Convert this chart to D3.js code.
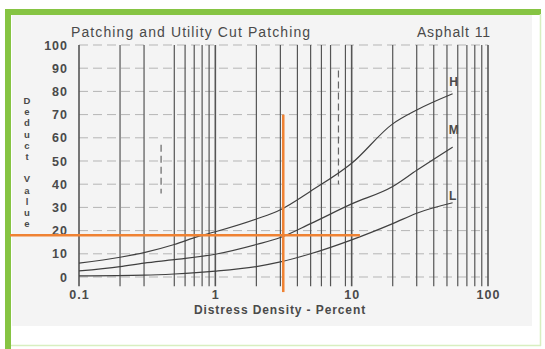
<!DOCTYPE html>
<html>
<head>
<meta charset="utf-8">
<script src="https://cdn.jsdelivr.net/npm/d3@7"></script>
<style>
  body { margin: 0; background: #fff; }
  svg { display: block; font-family: "Liberation Sans", Arial, sans-serif; }
</style>
</head>
<body>
<div id="chart"></div>
<script>
// deduct value curves (density in percent, log scale)
const densityH = [0.1, 0.2, 0.3, 0.5, 0.75, 1, 2, 3, 5, 10, 20, 30, 55];
const deductH  = [6, 8.5, 10.5, 14, 17.5, 19.5, 25, 29, 37, 49, 66, 72, 79];
const densityM = [0.1, 0.2, 0.3, 0.5, 1, 2, 3, 5, 10, 20, 30, 55];
const deductM  = [2.6, 4.5, 6, 7.5, 9.8, 14, 17, 23, 31.5, 39, 46, 56];
const densityL = [0.1, 0.3, 0.5, 1, 2, 3, 5, 10, 20, 30, 55];
const deductL  = [0.5, 0.8, 1.3, 2.5, 4.5, 6.5, 10, 16, 23, 27.5, 32];

const curveNames = ["H", "M", "L"];
const labelPos = [[56, 83.5], [56, 63], [55, 34.5]];

const xTicks = [0.1, 1, 10, 100];
const yTicks = [0, 10, 20, 30, 40, 50, 60, 70, 80, 90, 100];
const gridDensities = [0.1, 0.2, 0.3, 0.5, 0.6, 0.7, 0.8, 0.9, 1, 2, 3, 4, 5, 6, 7, 9, 10,
                       20, 30, 40, 50, 60, 70, 80, 90, 100];
// broken grid lines in the scan
const partialGrid = [{d: 0.4, from: 36, to: 57}, {d: 8, from: 40, to: 89}];

// orange read-off lines
const lookupDensity = 3.15;
const lookupDeduct = 18;

const width = 545;
const height = 349;
const green = "#86c443";
const orange = "#ef8233";
const ink = "#4a4a4a";

const svg = d3.select("#chart")
  .append("svg")
    .attr("width", width)
    .attr("height", height);

// page frame + scanned area
svg.append("rect")
  .attr("x", 0).attr("y", 0).attr("width", width).attr("height", height)
  .attr("fill", "#fff");
svg.append("rect")
  .attr("x", 12).attr("y", 14).attr("width", 520).attr("height", 312)
  .attr("fill", "#f4f4f4");
svg.append("rect")
  .attr("x", 5).attr("y", 9).attr("width", 536).attr("height", 6)
  .attr("fill", green);
svg.append("rect")
  .attr("x", 5).attr("y", 9).attr("width", 6).attr("height", 340)
  .attr("fill", green);
svg.append("line")
  .attr("x1", 540.5).attr("x2", 540.5).attr("y1", 14).attr("y2", 346)
  .attr("stroke", "#d8efc0").attr("stroke-width", 1.5);
svg.append("line")
  .attr("x1", 11).attr("x2", 541).attr("y1", 345.5).attr("y2", 345.5)
  .attr("stroke", "#d8efc0").attr("stroke-width", 1.5);

const xScale = d3.scaleLog()
  .domain([0.1, 100])
  .range([79, 488]);
const yScale = d3.scaleLinear()
  .domain([0, 100])
  .range([277, 45]);

// horizontal dashed grid
svg.append("g")
  .selectAll("line")
  .data(yTicks)
  .join("line")
    .attr("x1", xScale(0.1))
    .attr("x2", xScale(100))
    .attr("y1", d => yScale(d))
    .attr("y2", d => yScale(d))
    .attr("stroke", "#b5b5b5")
    .attr("stroke-width", 1)
    .attr("stroke-dasharray", "9,5");

// vertical log grid
svg.append("g")
  .selectAll("line")
  .data(gridDensities)
  .join("line")
    .attr("x1", d => xScale(d))
    .attr("x2", d => xScale(d))
    .attr("y1", yScale(100))
    .attr("y2", yScale(-4))
    .attr("stroke", "#555")
    .attr("stroke-width", d => Number.isInteger(Math.log10(d)) ? 1.6 : 1.2);

svg.append("g")
  .selectAll("line")
  .data(partialGrid)
  .join("line")
    .attr("x1", d => xScale(d.d))
    .attr("x2", d => xScale(d.d))
    .attr("y1", d => yScale(d.to))
    .attr("y2", d => yScale(d.from))
    .attr("stroke", "#666")
    .attr("stroke-width", 1.2)
    .attr("stroke-dasharray", "7,4");

// curves
const lineGenerator = d3.line()
  .x(d => xScale(d[0]))
  .y(d => yScale(d[1]))
  .curve(d3.curveMonotoneX);

const curves = [
  d3.zip(densityH, deductH),
  d3.zip(densityM, deductM),
  d3.zip(densityL, deductL)
];

svg.append("g")
  .selectAll("path")
  .data(curves)
  .join("path")
    .attr("d", lineGenerator)
    .attr("fill", "none")
    .attr("stroke", "#404040")
    .attr("stroke-width", 1.2);

svg.append("g")
  .selectAll("text")
  .data(curveNames)
  .join("text")
    .text(d => d)
    .attr("x", (d, i) => xScale(labelPos[i][0]))
    .attr("y", (d, i) => yScale(labelPos[i][1]))
    .attr("text-anchor", "middle")
    .attr("dominant-baseline", "middle")
    .attr("font-size", 12)
    .attr("font-weight", "bold")
    .attr("fill", ink);

// axes (labels only, the scan has no axis line)
const leftAxis = d3.axisLeft(yScale)
  .tickValues(yTicks)
  .tickSize(0)
  .tickPadding(11);
svg.append("g")
  .attr("class", "axis-y")
  .attr("transform", `translate(${xScale(0.1)}, 0)`)
  .call(leftAxis);

const bottomAxis = d3.axisBottom(xScale)
  .tickValues(xTicks)
  .tickFormat(d => String(d))
  .tickSize(0)
  .tickPadding(13);
svg.append("g")
  .attr("class", "axis-x")
  .attr("transform", `translate(0, ${yScale(0)})`)
  .call(bottomAxis);

svg.selectAll(".domain").remove();
svg.selectAll(".axis-y text, .axis-x text")
  .attr("fill", ink)
  .style("font-family", "'Liberation Sans', Arial, sans-serif")
  .style("font-size", "12.5px")
  .style("font-weight", "bold")
  .style("letter-spacing", "1px");

// titles
svg.append("text")
  .text("Patching and Utility Cut Patching")
  .attr("x", 71)
  .attr("y", 37)
  .attr("font-size", 14)
  .attr("letter-spacing", 1.1)
  .attr("fill", ink);

svg.append("text")
  .text("Asphalt 11")
  .attr("x", 491)
  .attr("y", 37)
  .attr("text-anchor", "end")
  .attr("font-size", 14)
  .attr("letter-spacing", 0.9)
  .attr("fill", ink);

svg.append("text")
  .text("Distress Density - Percent")
  .attr("x", 280)
  .attr("y", 314)
  .attr("text-anchor", "middle")
  .attr("font-size", 12)
  .attr("font-weight", "bold")
  .attr("letter-spacing", 0.9)
  .attr("fill", ink);

// stacked y label
const yLabel = "Deduct Value".split("");
svg.append("g")
  .selectAll("text")
  .data(yLabel)
  .join("text")
    .text(d => d)
    .attr("x", 27)
    .attr("y", (d, i) => 104 + i * 11.2)
    .attr("text-anchor", "middle")
    .attr("font-size", 9.5)
    .attr("font-weight", "bold")
    .attr("fill", ink);

// orange read-off lines
svg.append("line")
  .attr("x1", 10)
  .attr("x2", xScale(11.5))
  .attr("y1", yScale(lookupDeduct))
  .attr("y2", yScale(lookupDeduct))
  .attr("stroke", orange)
  .attr("stroke-width", 2.5);

svg.append("line")
  .attr("x1", xScale(lookupDensity))
  .attr("x2", xScale(lookupDensity))
  .attr("y1", yScale(70))
  .attr("y2", yScale(-6.5))
  .attr("stroke", orange)
  .attr("stroke-width", 2.5);
</script>
</body>
</html>
